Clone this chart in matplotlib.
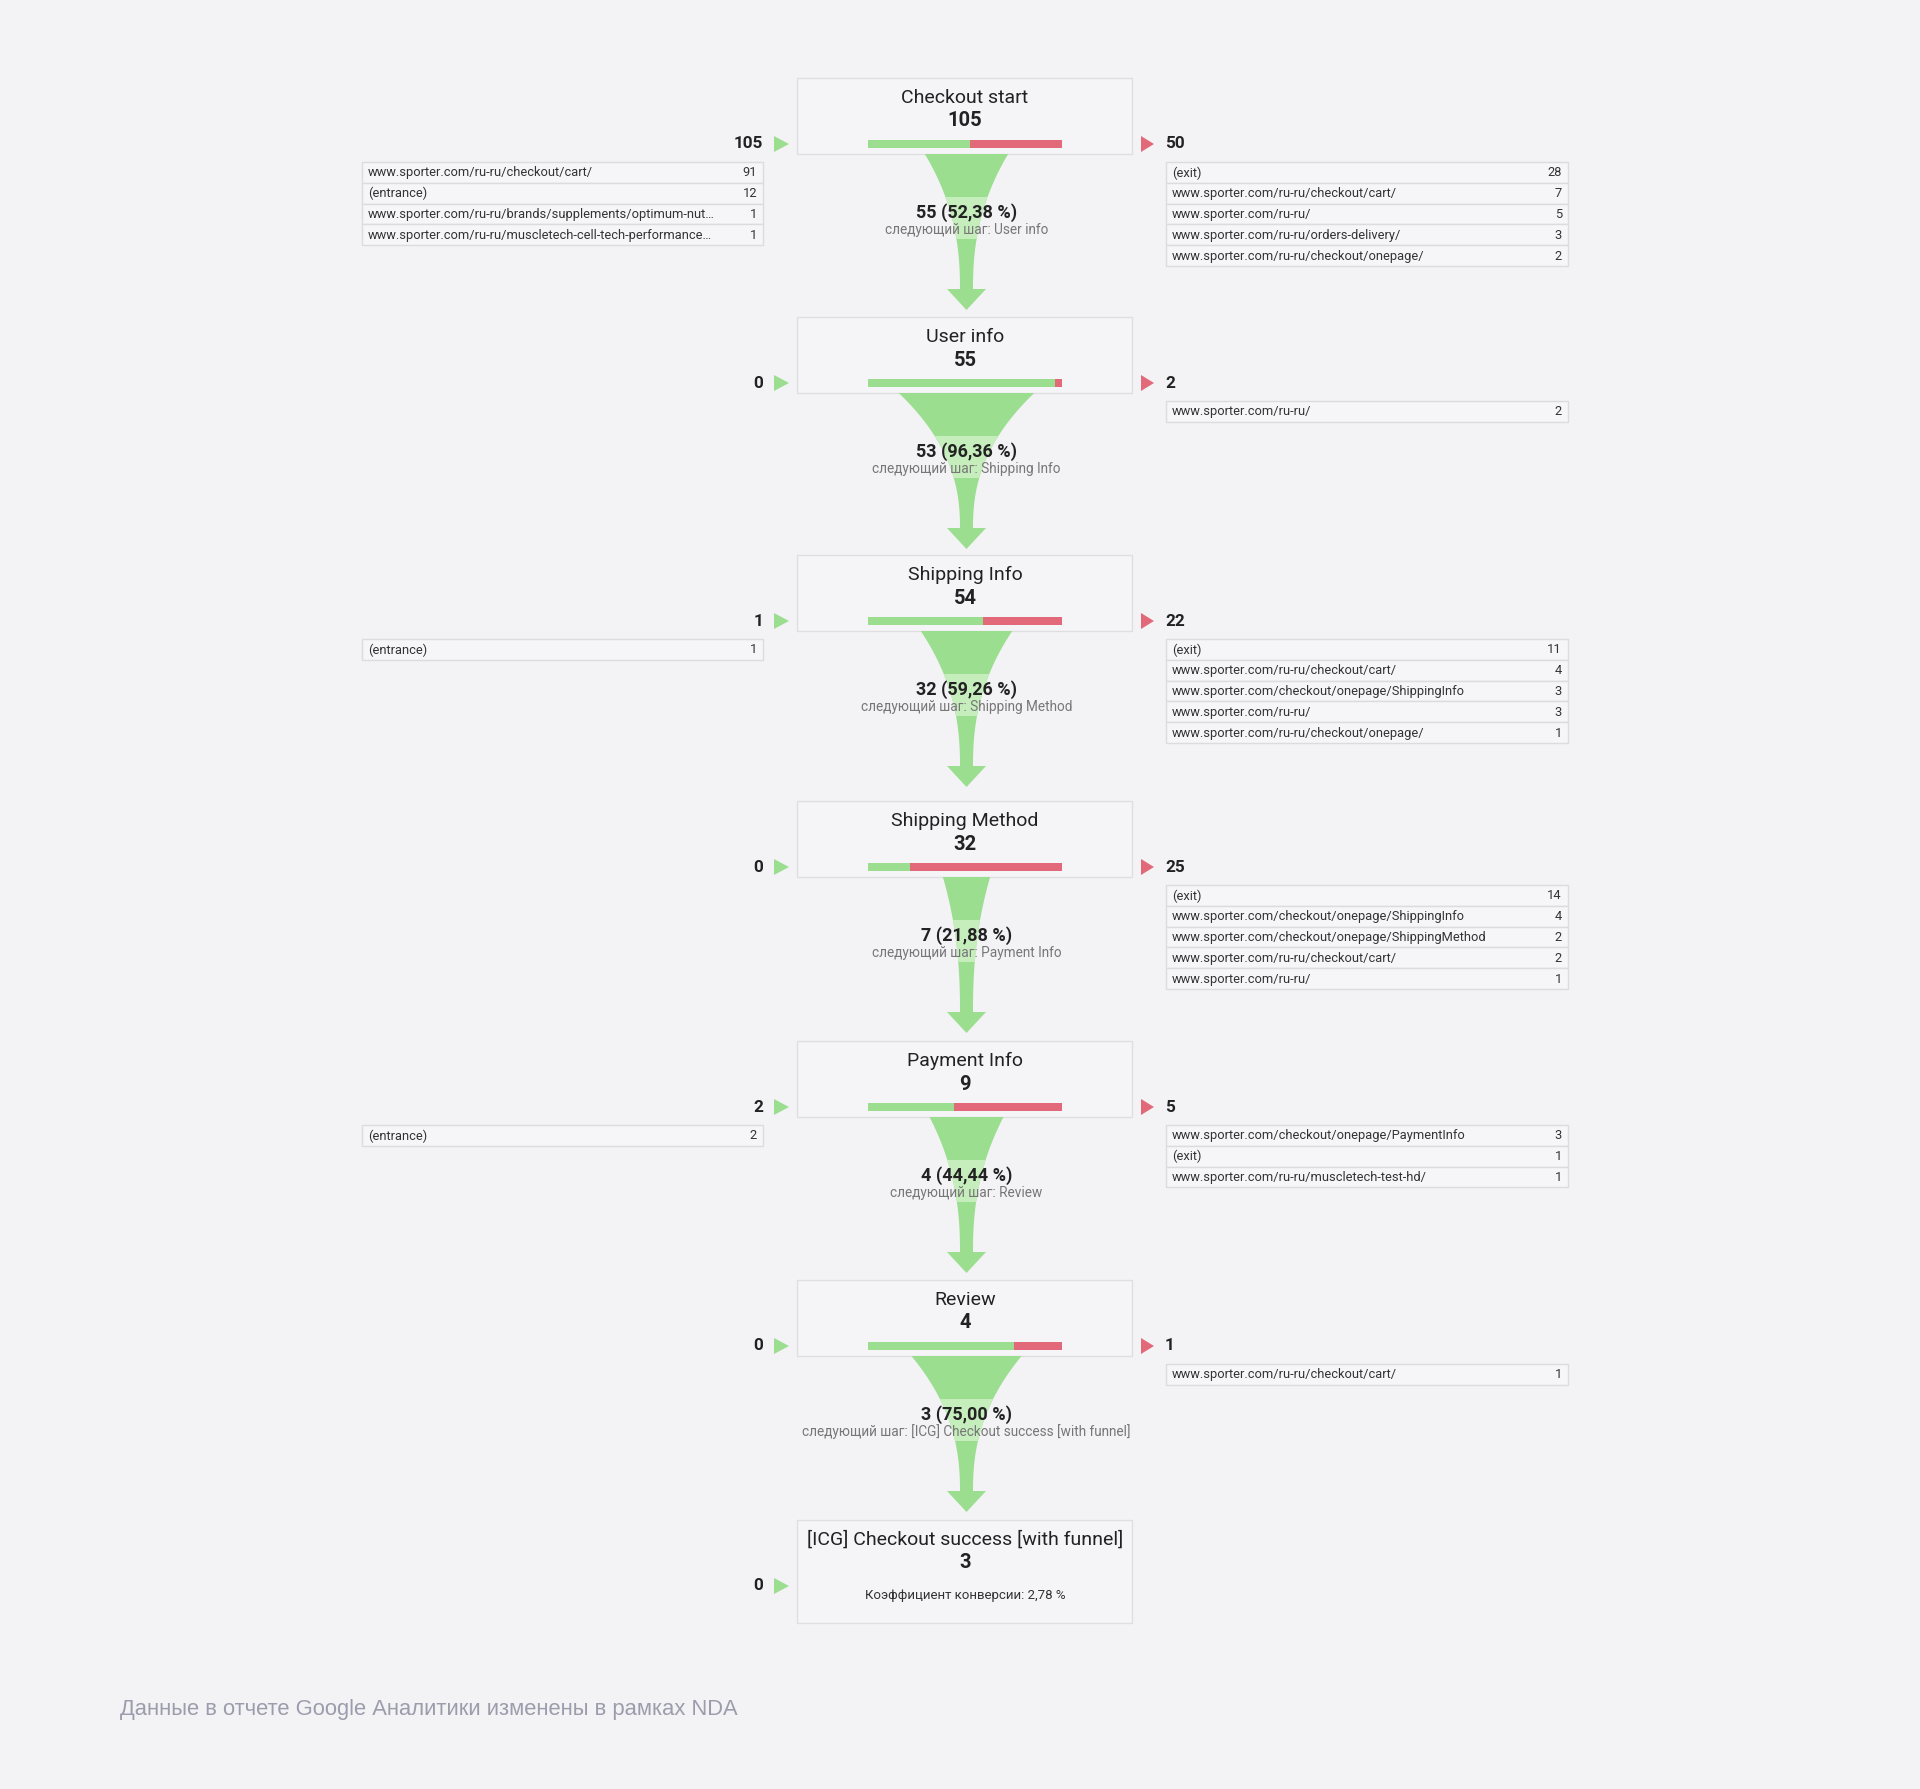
import matplotlib
matplotlib.use("Agg")
import matplotlib.pyplot as plt
from matplotlib.patches import Rectangle, Polygon
import numpy as np

plt.rcParams['font.family'] = ['Roboto', 'DejaVu Sans']

# ---------------- data ----------------
steps = ["Checkout start", "User info", "Shipping Info", "Shipping Method",
         "Payment Info", "Review", "[ICG] Checkout success [with funnel]"]
counts = [105, 55, 54, 32, 9, 4, 3]
entrances = [105, 0, 1, 0, 2, 0, 0]
exits = [50, 2, 22, 25, 5, 1]
proceeded = [55, 53, 32, 7, 4, 3]

entrance_sources = {
    0: [("www.sporter.com/ru-ru/checkout/cart/", 91),
        ("(entrance)", 12),
        ("www.sporter.com/ru-ru/brands/supplements/optimum-nut\u2026", 1),
        ("www.sporter.com/ru-ru/muscletech-cell-tech-performance\u2026", 1)],
    2: [("(entrance)", 1)],
    4: [("(entrance)", 2)],
}
exit_targets = {
    0: [("(exit)", 28),
        ("www.sporter.com/ru-ru/checkout/cart/", 7),
        ("www.sporter.com/ru-ru/", 5),
        ("www.sporter.com/ru-ru/orders-delivery/", 3),
        ("www.sporter.com/ru-ru/checkout/onepage/", 2)],
    1: [("www.sporter.com/ru-ru/", 2)],
    2: [("(exit)", 11),
        ("www.sporter.com/ru-ru/checkout/cart/", 4),
        ("www.sporter.com/checkout/onepage/ShippingInfo", 3),
        ("www.sporter.com/ru-ru/", 3),
        ("www.sporter.com/ru-ru/checkout/onepage/", 1)],
    3: [("(exit)", 14),
        ("www.sporter.com/checkout/onepage/ShippingInfo", 4),
        ("www.sporter.com/checkout/onepage/ShippingMethod", 2),
        ("www.sporter.com/ru-ru/checkout/cart/", 2),
        ("www.sporter.com/ru-ru/", 1)],
    4: [("www.sporter.com/checkout/onepage/PaymentInfo", 3),
        ("(exit)", 1),
        ("www.sporter.com/ru-ru/muscletech-test-hd/", 1)],
    5: [("www.sporter.com/ru-ru/checkout/cart/", 1)],
}
footnote = "Данные в отчете Google Аналитики изменены в рамках NDA"

# ---------------- layout / style ----------------
W, H = 1920, 1789
BG = '#f3f3f5'
GREEN = '#9bde8f'
GREEN_L = '#c6eebd'
RED = '#e2697a'
DARK = '#222222'
GRAY = '#777777'

box_tops = [78, 317, 555, 801, 1041, 1280, 1520]
box_h = [76, 76, 76, 76, 76, 76, 103]
box_x0, box_x1 = 797, 1132
cx = 965
fcx = 966.5
bar_x0, bar_w = 868, 194
lt_x0, lt_x1 = 362, 763
rt_x0, rt_x1 = 1166, 1568
row_h = 20.8

fig = plt.figure(figsize=(W / 100, H / 100), dpi=100)
fig.patch.set_facecolor(BG)
ax = fig.add_axes([0, 0, 1, 1])
ax.set_xlim(0, W)
ax.set_ylim(H, 0)
ax.axis('off')
ax.set_facecolor(BG)


def table(x0, x1, y0, rows):
    for i, (label, val) in enumerate(rows):
        y = y0 + i * row_h
        ax.add_patch(Rectangle((x0, y), x1 - x0, row_h, facecolor='#f6f6f8',
                               edgecolor='#dcdcdf', linewidth=1.0, zorder=2))
        ax.text(x0 + 6, y + row_h / 2 + 0.5, label, fontsize=9.3, color='#333333',
                va='center', ha='left', zorder=3)
        ax.text(x1 - 6, y + row_h / 2 + 0.5, str(val), fontsize=9.3, color='#333333',
                va='center', ha='right', zorder=3)


for i, name in enumerate(steps):
    top = box_tops[i]
    bh = box_h[i]
    bottom = top + bh
    ax.add_patch(Rectangle((box_x0, top), box_x1 - box_x0, bh, facecolor='#f5f5f7',
                           edgecolor='#dfdfe2', linewidth=1.0, zorder=2))
    ax.text(cx, top + 20, name, fontsize=14, color=DARK, ha='center', va='center', zorder=3)
    ax.text(cx, top + 43, str(counts[i]), fontsize=14.5, color=DARK, ha='center',
            va='center', fontweight='bold', zorder=3)

    # entrance marker
    ym = top + 66
    ax.add_patch(Polygon([[774, ym - 8], [774, ym + 8], [789, ym]], closed=True,
                         facecolor=GREEN, edgecolor='none', zorder=3))
    ax.text(763, ym, str(entrances[i]), fontsize=12.3, fontweight='bold', color=DARK,
            ha='right', va='center', zorder=3)
    if i in entrance_sources:
        table(lt_x0, lt_x1, top + 84, entrance_sources[i])

    if i < len(exits):
        # progress bar
        frac = proceeded[i] / counts[i]
        ax.add_patch(Rectangle((bar_x0, top + 62), bar_w * frac, 8, facecolor=GREEN,
                               edgecolor='none', zorder=3))
        ax.add_patch(Rectangle((bar_x0 + bar_w * frac, top + 62), bar_w * (1 - frac), 8,
                               facecolor=RED, edgecolor='none', zorder=3))
        # exit marker
        ax.add_patch(Polygon([[1141, ym - 8], [1141, ym + 8], [1154, ym]], closed=True,
                             facecolor=RED, edgecolor='none', zorder=3))
        ax.text(1165, ym, str(exits[i]), fontsize=12.3, fontweight='bold', color=DARK,
                ha='left', va='center', zorder=3)
        if i in exit_targets:
            table(rt_x0, rt_x1, top + 84, exit_targets[i])

        # funnel to next step
        y0 = bottom
        L = 135
        Ht = (21.4 + 118.4 * frac) / 2
        hs = 6.5
        t = np.linspace(0, 1, 80)
        hh = hs + (Ht - hs) * (1 - t) ** 2.3
        ys = y0 + t * L
        left = np.column_stack([fcx - hh, ys])
        right = np.column_stack([fcx + hh, ys])[::-1]
        head = np.array([[fcx - 19.5, y0 + L], [fcx, y0 + L + 21], [fcx + 19.5, y0 + L]])
        pts = np.vstack([left, head, right])
        ax.add_patch(Polygon(pts, closed=True, facecolor=GREEN, edgecolor='none', zorder=2))
        light = Polygon(pts, closed=True, facecolor=GREEN_L, edgecolor='none', zorder=2.1)
        ax.add_patch(light)
        clip = Rectangle((0, y0 + 43), W, 42, transform=ax.transData)
        light.set_clip_path(clip)

        pct = f"{proceeded[i] / counts[i] * 100:.2f}".replace('.', ',')
        ax.text(fcx, y0 + 59, f"{proceeded[i]} ({pct} %)", fontsize=13, fontweight='bold',
                color=DARK, ha='center', va='center', zorder=3)
        ax.text(fcx, y0 + 76, f"следующий шаг: {steps[i + 1]}", fontsize=9.8, color=GRAY,
                ha='center', va='center', zorder=3)
    else:
        conv = counts[i] / sum(entrances) * 100
        ax.text(cx, top + 75, f"Коэффициент конверсии: {conv:.2f} %".replace('.', ','),
                fontsize=9.5, color='#333333', ha='center', va='center', zorder=3)

ax.text(120, 1709, footnote, fontsize=15.8, color='#9c9cac', ha='left', va='center',
        family=['Liberation Sans', 'DejaVu Sans'])

fig.savefig('out.png', dpi=100, facecolor=BG)
